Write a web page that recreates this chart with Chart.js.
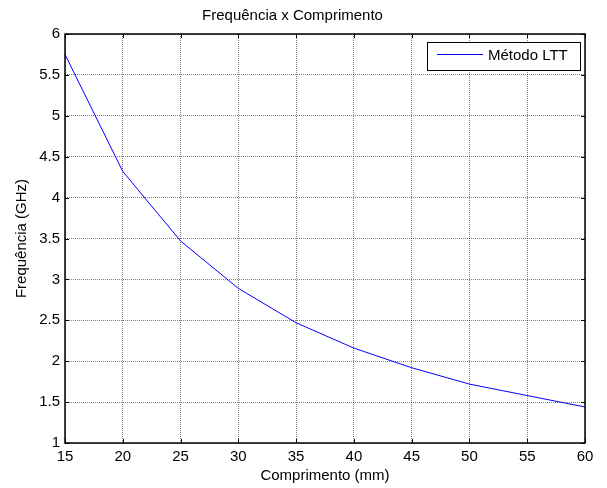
<!DOCTYPE html>
<html>
<head>
<meta charset="utf-8">
<script src="https://cdn.jsdelivr.net/npm/chart.js@4"></script>
<style>
  html, body { margin: 0; padding: 0; background: #fff; }
  #wrap { width: 607px; height: 488px; }
</style>
</head>
<body>
<div id="wrap"><canvas id="chart"></canvas></div>
<script>
// data
const comprimento = [15, 20, 25, 30, 35, 40, 45, 50, 55, 60]
const frequencia = [5.75, 4.32, 3.47, 2.89, 2.47, 2.16, 1.92, 1.72, 1.58, 1.44]
const seriesLabel = 'Método LTT'

const FONT = 'Liberation Sans, Arial, sans-serif'

// frame, inside ticks and legend box, matlab style
const matlabBox = {
    id: 'matlabBox',
    afterDraw(chart) {
        const ctx = chart.ctx
        const a = chart.chartArea
        const xs = chart.scales.x
        const ys = chart.scales.y
        ctx.save()
        ctx.strokeStyle = '#000'
        ctx.lineWidth = 1
        // inside ticks
        ctx.beginPath()
        xs.ticks.forEach(function (t) {
            const px = Math.round(xs.getPixelForValue(t.value)) + 0.5
            ctx.moveTo(px, a.bottom); ctx.lineTo(px, a.bottom - 4)
            ctx.moveTo(px, a.top); ctx.lineTo(px, a.top + 4)
        })
        ys.ticks.forEach(function (t) {
            const py = Math.round(ys.getPixelForValue(t.value)) + 0.5
            ctx.moveTo(a.left, py); ctx.lineTo(a.left + 4, py)
            ctx.moveTo(a.right, py); ctx.lineTo(a.right - 4, py)
        })
        ctx.stroke()
        // frame
        ctx.lineWidth = 1.5
        ctx.strokeRect(a.left, a.top, a.right - a.left, a.bottom - a.top)

        // legend
        const lx = Math.round(a.right - 158), ly = Math.round(a.top + 8), lw = 153, lh = 28
        ctx.fillStyle = '#fff'
        ctx.fillRect(lx, ly, lw, lh)
        ctx.strokeStyle = '#000'
        ctx.lineWidth = 1
        ctx.strokeRect(lx + 0.5, ly + 0.5, lw, lh)
        ctx.beginPath()
        ctx.strokeStyle = '#0000ff'
        ctx.moveTo(lx + 10, ly + 12.5)
        ctx.lineTo(lx + 56, ly + 12.5)
        ctx.stroke()
        ctx.fillStyle = '#000'
        ctx.font = '15px ' + FONT
        ctx.textBaseline = 'middle'
        ctx.fillText(chart.data.datasets[0].label, lx + 61, ly + 14)
        ctx.restore()
    }
}

new Chart(document.getElementById('chart'), {
    type: 'line',
    data: {
        datasets: [{
            label: seriesLabel,
            data: comprimento.map(function (c, i) { return { x: c, y: frequencia[i] } }),
            borderColor: '#0000ff',
            borderWidth: 1,
            pointRadius: 0,
            tension: 0,
            fill: false
        }]
    },
    options: {
        responsive: true,
        maintainAspectRatio: false,
        animation: false,
        layout: { padding: { top: 0, right: 22, bottom: 0, left: 0 } },
        plugins: {
            legend: { display: false },
            tooltip: { enabled: false },
            title: {
                display: true,
                text: 'Frequência x Comprimento',
                color: '#000',
                font: { family: FONT, size: 15, weight: 'normal' },
                padding: { top: 7, bottom: 9 }
            }
        },
        scales: {
            x: {
                type: 'linear',
                min: 15,
                max: 60,
                ticks: { stepSize: 5, color: '#000', padding: 5, maxRotation: 0, font: { family: FONT, size: 15 } },
                grid: { color: 'rgba(0,0,0,0.5)', lineWidth: 1, drawTicks: false },
                border: { display: false, dash: [1, 1] },
                title: { display: true, text: 'Comprimento (mm)', color: '#000', padding: { top: 0, bottom: 3 }, font: { family: FONT, size: 15 } },
                afterFit: function (s) { s.height = 45 }
            },
            y: {
                min: 1,
                max: 6,
                ticks: {
                    stepSize: 0.5, color: '#000', padding: 5, font: { family: FONT, size: 15 },
                    callback: function (v) { return String(v) }
                },
                grid: { color: 'rgba(0,0,0,0.5)', lineWidth: 1, drawTicks: false },
                border: { display: false, dash: [1, 1] },
                title: { display: true, text: 'Frequência (GHz)', color: '#000', padding: { top: 13, bottom: 0 }, font: { family: FONT, size: 15 } },
                afterFit: function (s) { s.width = 65 }
            }
        }
    },
    plugins: [matlabBox]
})
</script>
</body>
</html>
